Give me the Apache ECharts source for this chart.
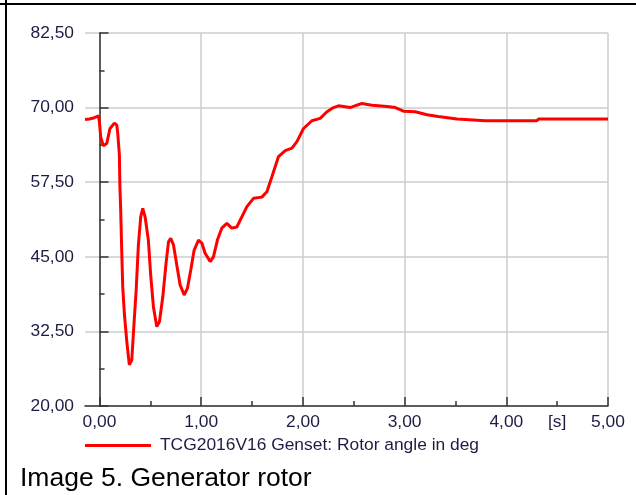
<!DOCTYPE html>
<html>
<head>
<meta charset="utf-8">
<script src="https://cdn.jsdelivr.net/npm/echarts@6/dist/echarts.min.js"></script>
<style>
html,body{margin:0;padding:0;background:#fff;}
#chart{width:636px;height:495px;}
</style>
</head>
<body>
<div id="chart"></div>
<script>
var seriesName = 'TCG2016V16 Genset: Rotor angle in deg';
var captionText = 'Image 5. Generator rotor';
var xTickValues = [0, 1, 2, 3, 4, 5];
var xMinorTickValues = [0.5, 1.5, 2.5, 3.5, 4.5];
var xLabelValues = [0, 1, 2, 3, 4, 4.5, 5];
var xUnitLabel = '[s]';
var yTickValues = [20, 32.5, 45, 57.5, 70, 82.5];
var yMinorTickValues = [26.25, 38.75, 51.25, 63.75, 76.25];
var timeS = [-0.143, -0.10, -0.05, -0.01, 0.0, 0.011, 0.037, 0.071, 0.103, 0.146, 0.169, 0.179, 0.195, 0.200, 0.208, 0.218, 0.228, 0.244, 0.268, 0.293, 0.317, 0.333, 0.36, 0.382, 0.405, 0.425, 0.448, 0.48, 0.504, 0.53, 0.563, 0.589, 0.622, 0.654, 0.678, 0.70, 0.727, 0.76, 0.792, 0.832, 0.864, 0.897, 0.93, 0.973, 1.006, 1.038, 1.088, 1.12, 1.159, 1.202, 1.252, 1.30, 1.35, 1.449, 1.514, 1.596, 1.646, 1.695, 1.76, 1.826, 1.892, 1.941, 2.006, 2.088, 2.17, 2.236, 2.30, 2.35, 2.465, 2.53, 2.58, 2.68, 2.827, 2.908, 2.99, 3.105, 3.22, 3.33, 3.516, 3.794, 4.30, 4.32, 5.00];
var rotorAngle = [68.0, 68.1, 68.3, 68.6, 67.4, 65.1, 63.6, 64.0, 66.5, 67.4, 67.1, 65.7, 62.1, 57.0, 52.8, 46.1, 40.0, 35.5, 30.8, 26.9, 27.7, 32.2, 39.4, 47.0, 51.7, 53.1, 51.7, 47.8, 41.7, 36.6, 33.3, 34.1, 38.3, 43.9, 47.5, 48.1, 47.0, 43.6, 40.3, 38.6, 39.7, 42.8, 46.1, 47.8, 47.3, 45.6, 44.2, 45.0, 47.8, 49.8, 50.6, 49.8, 50.0, 53.4, 54.8, 55.0, 55.9, 58.4, 61.8, 62.8, 63.2, 64.3, 66.5, 67.8, 68.2, 69.3, 70.0, 70.3, 70.0, 70.4, 70.7, 70.4, 70.2, 70.0, 69.4, 69.3, 68.8, 68.5, 68.1, 67.8, 67.8, 68.1, 68.1];

var FONT = '"Liberation Sans", Arial, sans-serif';
var LABEL_COLOR = '#1c1c44';
function fmt(v) { return v.toFixed(2).replace('.', ','); }

var chart = echarts.init(document.getElementById('chart'), null, {renderer: 'canvas'});
var data = timeS.map(function (t, i) { return [t, rotorAngle[i]]; });

chart.setOption({
  animation: false,
  backgroundColor: '#ffffff',
  title: {
    text: captionText,
    left: 20, top: 465,
    padding: 0,
    textStyle: {fontFamily: FONT, fontSize: 26.5, fontWeight: 'normal', color: '#000'}
  },
  legend: {
    data: [seriesName],
    left: 85, top: 437, padding: 0,
    icon: 'rect', itemWidth: 66, itemHeight: 3,
    textStyle: {fontFamily: FONT, fontSize: 17.4, color: LABEL_COLOR, padding: [0, 0, 0, 4]}
  },
  grid: {left: 85, right: 28, top: 33, bottom: 89, containLabel: false},
  xAxis: [{
    type: 'value', min: -0.143, max: 5,
    axisLine: {show: true, lineStyle: {color: '#333', width: 1.5}},
    axisTick: {show: true, inside: true, length: 9, customValues: xTickValues, lineStyle: {color: '#333', width: 1.5}},
    axisLabel: {show: true, customValues: xLabelValues, margin: 8, fontFamily: FONT, fontSize: 17.4, color: LABEL_COLOR,
      formatter: function (v) { return Math.abs(v - 4.5) < 1e-6 ? xUnitLabel : fmt(v); }},
    splitLine: {show: true, lineStyle: {color: '#cccccc', width: 1.5}}
  }, {
    type: 'value', min: -0.143, max: 5, position: 'bottom',
    axisLine: {show: false},
    axisTick: {show: true, inside: true, length: 5, customValues: xMinorTickValues, lineStyle: {color: '#333', width: 1.5}},
    axisLabel: {show: false},
    splitLine: {show: false}
  }],
  yAxis: [{
    type: 'value', min: 20, max: 82.5,
    axisLine: {show: true, lineStyle: {color: '#333', width: 1.5}},
    axisTick: {show: true, inside: true, length: 9, customValues: yTickValues, lineStyle: {color: '#333', width: 1.5}},
    axisLabel: {show: true, customValues: yTickValues, margin: 11, fontFamily: FONT, fontSize: 17.4, color: LABEL_COLOR, formatter: fmt},
    splitLine: {show: true, lineStyle: {color: '#cccccc', width: 1.5}}
  }, {
    type: 'value', min: 20, max: 82.5, position: 'left',
    axisLine: {show: false},
    axisTick: {show: true, inside: true, length: 5, customValues: yMinorTickValues, lineStyle: {color: '#333', width: 1.5}},
    axisLabel: {show: false},
    splitLine: {show: false}
  }],
  series: [{
    name: seriesName,
    type: 'line',
    xAxisIndex: 0, yAxisIndex: 0,
    data: data,
    showSymbol: false,
    smooth: false,
    lineStyle: {color: '#ff0000', width: 3},
    itemStyle: {color: '#ff0000'}
  }],
  graphic: [
    {type: 'rect', shape: {x: 0, y: 3, width: 636, height: 2}, style: {fill: '#000'}},
    {type: 'rect', shape: {x: 5, y: 0, width: 2, height: 495}, style: {fill: '#000'}}
  ]
});
</script>
</body>
</html>
